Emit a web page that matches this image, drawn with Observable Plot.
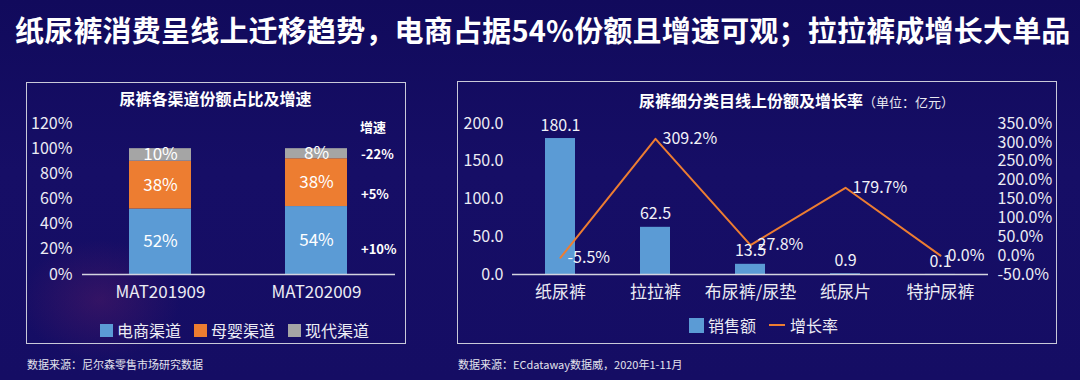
<!DOCTYPE html>
<html><head><meta charset="utf-8">
<script src="https://cdn.jsdelivr.net/npm/d3@7"></script>
<script src="https://cdn.jsdelivr.net/npm/@observablehq/plot@0.6"></script>
<style>
html,body{margin:0;padding:0}
body{width:1080px;height:380px;overflow:hidden;position:relative;
 background:radial-gradient(ellipse 80px 60px at 100px 300px, rgba(130,35,100,0.28), rgba(130,35,100,0) 100%), linear-gradient(180deg,#110a5c 0%,#160e66 45%,#150d64 100%);
 font-family:"Noto Sans CJK SC","Noto Sans",sans-serif;color:#fff}
.abs{position:absolute;white-space:nowrap}
.panel{position:absolute;border:1.5px solid #c9c9d9;box-sizing:border-box}
.title{font-weight:700;font-size:29px;line-height:40px;left:15px;top:9px;letter-spacing:0.2px}
.ptitle{font-weight:700;font-size:16px;line-height:22px;color:#fff}
.unit{font-weight:400;font-size:13px;color:#e8e8f0}
.grow{font-weight:700;font-size:13px;line-height:18px;color:#fff}
.legend{display:flex;align-items:center;font-size:16px;line-height:22px;color:#ececf4}
.sw{display:inline-block;width:13px;height:13px;margin-right:4px}
.item{display:flex;align-items:center;margin-right:13px}
.ln{display:inline-block;width:16px;height:2px;background:#ed7d31;margin-right:5px}
.foot{font-size:11px;line-height:16px;color:#e4e4ee;top:356px}
.chart{position:absolute}
</style></head><body>
<div class="abs title" id="mainTitle"></div>
<div class="panel" style="left:26px;top:82px;width:380px;height:262px"></div>
<div class="panel" style="left:457px;top:81px;width:600px;height:263px"></div>
<div class="abs ptitle" id="leftTitle" style="left:0;width:431px;text-align:center;top:87px"></div>
<div class="abs ptitle" id="rightTitle" style="left:639px;top:89px"></div>
<div class="abs grow" id="growHead" style="left:360px;top:118px"></div>
<div id="growLabels"></div>
<div class="chart" id="leftChart" style="left:26px;top:105px"></div>
<div class="chart" id="rightChart" style="left:457px;top:105px"></div>
<div class="abs legend" id="leftLegend" style="left:100px;top:319px"></div>
<div class="abs legend" id="rightLegend" style="left:689px;top:314px"></div>
<div class="abs foot" id="foot1" style="left:27px"></div>
<div class="abs foot" id="foot2" style="left:458px"></div>
<script>
// ---- text ----
const mainTitle = "纸尿裤消费呈线上迁移趋势，电商占据54%份额且增速可观；拉拉裤成增长大单品";
const leftTitle = "尿裤各渠道份额占比及增速";
const rightTitle = "尿裤细分类目线上份额及增长率";
const rightUnit = "（单位：亿元）";
const growthHead = "增速";
const source1 = "数据来源：尼尔森零售市场研究数据";
const source2 = "数据来源：ECdataway数据威，2020年1-11月";

// ---- left chart data ----
const channelPeriods = ["MAT201909", "MAT202009"];
const channelNames = ["电商渠道", "母婴渠道", "现代渠道"];
const channelColors = ["#5b9bd5", "#ed7d31", "#a5a5a5"];
const share2019 = [52, 38, 10];
const share2020 = [54, 38, 8];
const channelGrowth = ["+10%", "+5%", "-22%"];
const shareTicks = [0, 20, 40, 60, 80, 100, 120];

// ---- right chart data ----
const categories = ["纸尿裤", "拉拉裤", "布尿裤/尿垫", "纸尿片", "特护尿裤"];
const sales = [180.1, 62.5, 13.5, 0.9, 0.1];
const growth = [-5.5, 309.2, 27.8, 179.7, 0.0];
const salesTicks = [0, 50, 100, 150, 200];
const growthTicks = [-50, 0, 50, 100, 150, 200, 250, 300, 350];
const seriesNames = ["销售额", "增长率"];

const FONT = '"Noto Sans CJK SC","Noto Sans",sans-serif';
const TXT = "#ececf4";

document.getElementById("mainTitle").textContent = mainTitle;
document.getElementById("leftTitle").textContent = leftTitle;
document.getElementById("rightTitle").innerHTML = rightTitle + '<span class="unit">' + rightUnit + '</span>';
document.getElementById("growHead").textContent = growthHead;
document.getElementById("foot1").textContent = source1;
document.getElementById("foot2").textContent = source2;

// growth annotations (next to 2nd bar)
const growTops = [240, 185, 145];
const gl = document.getElementById("growLabels");
channelGrowth.forEach((t, i) => {
  const d = document.createElement("div");
  d.className = "abs grow";
  d.style.left = "361px";
  d.style.top = growTops[i] + "px";
  d.textContent = t;
  gl.appendChild(d);
});

// ---- left chart ----
const shareRows = [];
channelPeriods.forEach((p, i) => {
  const s = i === 0 ? share2019 : share2020;
  channelNames.forEach((c, j) => shareRows.push({period: p, channel: c, value: s[j]}));
});

const left = Plot.plot({
  width: 379, height: 200,
  marginTop: 18, marginBottom: 31, marginLeft: 56, marginRight: 10,
  style: {background: "transparent", color: TXT, fontFamily: FONT, overflow: "visible"},
  x: {domain: channelPeriods, paddingInner: 0.6, paddingOuter: 0.3},
  y: {domain: [0, 120]},
  color: {domain: channelNames, range: channelColors},
  marks: [
    Plot.axisY({ticks: shareTicks, tickFormat: d => d + "%", tickSize: 0, tickPadding: 10, fontSize: 16, label: null, fill: TXT}),
    Plot.axisX({tickSize: 0, tickPadding: 11, fontSize: 17, label: null, fill: TXT}),
    Plot.barY(shareRows, {x: "period", y: "value", fill: "channel"}),
    Plot.text(shareRows, Plot.stackY({x: "period", y: "value", z: "channel", text: d => d.value + "%", fill: "#ffffff", fontSize: 17})),
    Plot.ruleY([0], {stroke: "#d4d4e0", strokeWidth: 1.5})
  ]
});
document.getElementById("leftChart").appendChild(left);

// ---- right chart ----
const g2v = g => (g + 50) / 2;   // map growth (%) onto sales axis (-50..350 -> 0..200)
const catRows = categories.map((c, i) => ({cat: c, sales: sales[i], growth: growth[i]}));

const right = Plot.plot({
  width: 599, height: 200,
  marginTop: 18, marginBottom: 31, marginLeft: 55, marginRight: 68,
  style: {background: "transparent", color: TXT, fontFamily: FONT, overflow: "visible"},
  x: {domain: categories, paddingInner: 0.685, paddingOuter: 0.3425},
  y: {domain: [0, 200]},
  marks: [
    Plot.axisY({ticks: salesTicks, tickFormat: d => d.toFixed(1), tickSize: 0, tickPadding: 9, fontSize: 16, label: null, fill: TXT}),
    Plot.axisY({anchor: "right", ticks: growthTicks.map(g2v), tickFormat: v => (v * 2 - 50).toFixed(1) + "%", tickSize: 0, tickPadding: 9, textAnchor: "start", fontSize: 16, label: null, fill: TXT}),
    Plot.axisX({tickSize: 0, tickPadding: 11, fontSize: 17, label: null, fill: TXT}),
    Plot.barY(catRows, {x: "cat", y: "sales", fill: "#5b9bd5"}),
    Plot.ruleY([0], {stroke: "#d4d4e0", strokeWidth: 1.5}),
    Plot.line(catRows, {x: "cat", y: d => g2v(d.growth), stroke: "#ed7d31", strokeWidth: 2}),
    Plot.text(catRows, {x: "cat", y: "sales", text: d => d.sales.toFixed(1), dy: -13, fill: "#f2f2f8", fontSize: 16}),
    Plot.text(catRows, {x: "cat", y: d => g2v(d.growth), text: d => d.growth.toFixed(1) + "%", dx: 7, textAnchor: "start", fill: "#f2f2f8", fontSize: 16})
  ]
});
document.getElementById("rightChart").appendChild(right);

// ---- legends ----
const ll = document.getElementById("leftLegend");
channelNames.forEach((n, i) => {
  const it = document.createElement("span");
  it.className = "item";
  it.innerHTML = '<span class="sw" style="background:' + channelColors[i] + '"></span>' + n;
  ll.appendChild(it);
});
const rl = document.getElementById("rightLegend");
rl.innerHTML = '<span class="item"><span class="sw" style="background:#5b9bd5;width:15px;height:15px"></span>' + seriesNames[0] +
  '</span><span class="item"><span class="ln"></span>' + seriesNames[1] + '</span>';
</script>
</body></html>
